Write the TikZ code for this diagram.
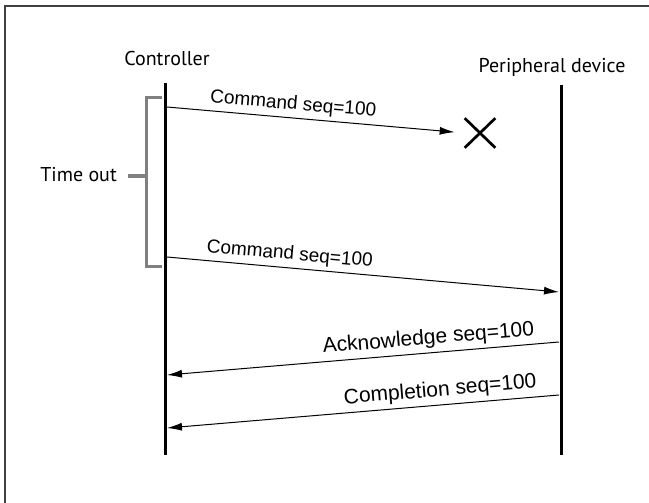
\documentclass[tikz,border=0pt]{standalone}
\usepackage{fontspec}
\setmainfont{PT Sans}
\newfontfamily\msgfont{Liberation Sans}
\usetikzlibrary{arrows.meta, shapes.misc}
\tikzstyle{frame} = [draw, black!75, line width=2pt]
\tikzstyle{lifeline} = [draw, line width=3pt]
\tikzstyle{actor} = [inner sep=0pt, font=\fontsize{20}{24}\selectfont]
\tikzstyle{msg} = [draw, line width=1pt, -{Latex[length=15pt,width=8pt]}]
\tikzstyle{msglabel} = [sloped, above=4pt, inner sep=0pt, font=\msgfont\fontsize{19}{22}\selectfont]
\tikzstyle{replylabel} = [msglabel, font=\msgfont\fontsize{21}{24}\selectfont]
\tikzstyle{bracket} = [draw, black!50, line width=3pt]
\tikzstyle{lost} = [draw, cross out, line width=2.7pt, minimum width=28pt, minimum height=27pt, inner sep=0pt]

\begin{document}
\begin{tikzpicture}[x=1pt, y=-1pt]
	\useasboundingbox (0,0) rectangle (649,503);
	\coordinate (fbl) at (5,503);
	\coordinate (ftr) at (649,6);
	\draw [frame] (fbl) |- (ftr);
	
	% lifelines
	\node [actor, anchor=base] (ctrl) at (167,66) {Controller};
	\node [actor, anchor=base] (periph) at (552,73) {Peripheral device};
	\coordinate (ctop) at (165,83);
	\coordinate (cbot) at (165,455);
	\coordinate (ptop) at (561,85);
	\coordinate (pbot) at (561,455);
	\draw [lifeline] (ctop) -- (cbot);
	\draw [lifeline] (ptop) -- (pbot);
	
	% time out bracket
	\node [actor, anchor=base east] (tout) at (117,182) {Time out};
	\coordinate (btop) at (162,98);
	\coordinate (bbot) at (162,266);
	\coordinate (bmid) at (146,176);
	\draw [bracket] (btop) -- ++(-16,0) |- (bbot);
	\draw [bracket] ([xshift=11pt]tout.east |- bmid) -- (bmid);
	
	% lost command
	\node [lost] (x) at (480,133) {};
	\coordinate (c1) at (167,107);
	\path [msg, shorten >=10pt] (c1) to node [msglabel, pos=0.42] {Command seq=100} (x.west);
	
	% retry
	\coordinate (c2) at (167,257);
	\coordinate (p2) at (559,292);
	\path [msg] (c2) to node [msglabel, pos=0.31] {Command seq=100} (p2);
	
	% replies
	\coordinate (p3) at (559,342);
	\coordinate (c3) at (167,375);
	\path [msg] (p3) to node [replylabel, pos=0.33] {Acknowledge seq=100} (c3);
	
	\coordinate (p4) at (559,395);
	\coordinate (c4) at (167,428);
	\path [msg] (p4) to node [replylabel, pos=0.30] {Completion seq=100} (c4);
\end{tikzpicture}
\end{document}
